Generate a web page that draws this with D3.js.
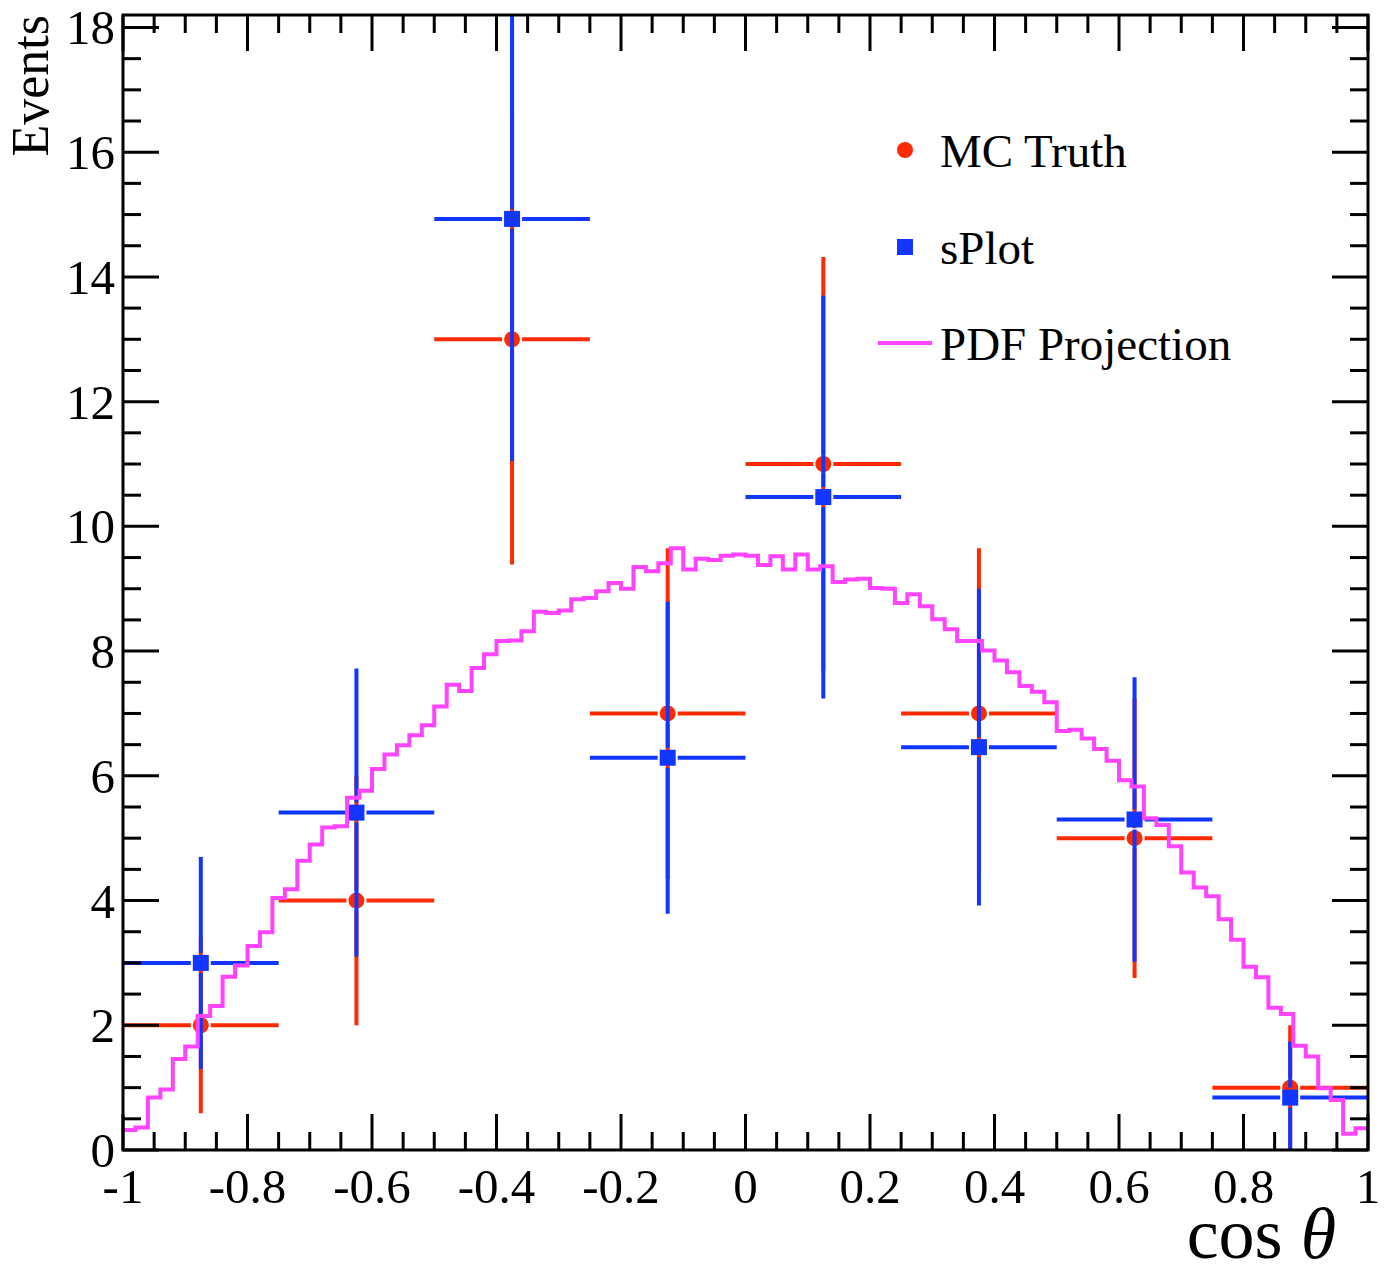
<!doctype html>
<html>
  <head>
    <script src="https://cdnjs.cloudflare.com/ajax/libs/d3/7.8.5/d3.min.js"></script>
    <style>
      body { margin: 0; background: #fff; }
      text { font-family: "Liberation Serif", "DejaVu Serif", serif; fill: #000; }
    </style>
  </head>
  <body>
    <svg width="1387" height="1271"></svg>
    <script>
        // coarse bins (8 x 0.25) for MC truth and sPlot
        var binCenters = [-0.875, -0.625, -0.375, -0.125, 0.125, 0.375, 0.625, 0.875];
        var binHalfWidth = 0.125;
        var truthVals = [2, 4, 13, 7, 11, 7, 5, 1];
        var truthErrs = [1.41, 2, 3.61, 2.65, 3.32, 2.65, 2.24, 1];
        var splotVals = [3.0, 5.41, 14.93, 6.29, 10.47, 6.46, 5.30, 0.84];
        var splotErrs = [1.70, 2.31, 3.88, 2.50, 3.23, 2.54, 2.28, 0.90];

        // fine PDF projection histogram, 100 bins from -1 to 1
        var pdfVals = [
            0.32,0.36,0.84,0.97,1.46,1.66,2.15,2.31,2.78,2.96,3.27,3.49,4.04,4.18,4.64,4.90,5.17,5.19,5.65,5.76,
            6.11,6.34,6.49,6.65,6.81,7.11,7.46,7.36,7.73,7.95,8.16,8.17,8.32,8.63,8.61,8.65,8.83,8.85,8.96,9.09,
            9.00,9.35,9.28,9.41,9.65,9.31,9.48,9.46,9.53,9.55,9.53,9.38,9.52,9.31,9.55,9.31,9.36,9.11,9.15,9.16,
            9.01,9.00,8.77,8.91,8.72,8.51,8.35,8.16,8.16,8.01,7.85,7.66,7.44,7.35,7.18,6.72,6.74,6.60,6.43,6.24,
            5.93,5.83,5.32,5.21,4.87,4.45,4.21,4.07,3.70,3.37,2.94,2.77,2.28,2.18,1.67,1.50,0.99,0.80,0.26,0.35
        ];

        var xTicks = [-1, -0.8, -0.6, -0.4, -0.2, 0, 0.2, 0.4, 0.6, 0.8, 1];
        var yTicks = [0, 2, 4, 6, 8, 10, 12, 14, 16, 18];
        var legendLabels = ["MC Truth", "sPlot", "PDF Projection"];

        var red = "#ff2a00", blue = "#1236ff", magenta = "#ff44ff";

        var L = 123, R = 1368, T = 15, B = 1150;
        var x = d3.scaleLinear().domain([-1, 1]).range([L, R]);
        var y = d3.scaleLinear().domain([0, 18.2]).range([B, T]);

        var svg = d3.select("svg");

        svg.append("clipPath").attr("id", "plot")
            .append("rect").attr("x", L).attr("y", T).attr("width", R - L).attr("height", B - T);

        var plot = svg.append("g").attr("clip-path", "url(#plot)");

        function drawSeries(vals, errs, color, gap) {
            var g = plot.append("g").attr("stroke", color).attr("stroke-width", 4).attr("fill", "none");
            binCenters.forEach(function(c, i) {
                var cx = x(c), cy = y(vals[i]);
                // horizontal bars
                g.append("line").attr("x1", x(c - binHalfWidth)).attr("x2", cx - gap).attr("y1", cy).attr("y2", cy);
                g.append("line").attr("x1", cx + gap).attr("x2", x(c + binHalfWidth)).attr("y1", cy).attr("y2", cy);
                // vertical bars
                var lo = Math.max(0, vals[i] - errs[i]);
                g.append("line").attr("x1", cx).attr("x2", cx).attr("y1", cy - gap).attr("y2", y(vals[i] + errs[i]));
                g.append("line").attr("x1", cx).attr("x2", cx).attr("y1", cy + gap).attr("y2", y(lo));
            });
            return g;
        }

        drawSeries(truthVals, truthErrs, red, 10);
        plot.append("g").selectAll("circle").data(binCenters).enter().append("circle")
            .attr("cx", d => x(d))
            .attr("cy", (d, i) => y(truthVals[i]))
            .attr("r", 8)
            .attr("fill", red);

        drawSeries(splotVals, splotErrs, blue, 10);
        plot.append("g").selectAll("rect").data(binCenters).enter().append("rect")
            .attr("x", d => x(d) - 8)
            .attr("y", (d, i) => y(splotVals[i]) - 8)
            .attr("width", 16).attr("height", 16)
            .attr("fill", blue);

        // step histogram for the PDF
        var pdfPts = pdfVals.map((v, i) => [-1 + i * 0.02, v]);
        pdfPts.push([1, pdfVals[pdfVals.length - 1]]);
        var stepLine = d3.line().x(d => x(d[0])).y(d => y(d[1])).curve(d3.curveStepAfter);
        plot.append("path").datum(pdfPts)
            .attr("d", stepLine)
            .attr("fill", "none").attr("stroke", magenta).attr("stroke-width", 4);

        // frame and ticks
        var axes = svg.append("g").attr("stroke", "#000").attr("stroke-width", 3);
        axes.append("rect").attr("x", L).attr("y", T).attr("width", R - L).attr("height", B - T).attr("fill", "none");

        var xMinor = d3.range(-1, 1.0001, 0.05);
        xMinor.forEach(function(v) {
            var major = Math.abs(v * 5 - Math.round(v * 5)) < 1e-6;
            var len = major ? 36 : 18;
            axes.append("line").attr("x1", x(v)).attr("x2", x(v)).attr("y1", B).attr("y2", B - len);
            axes.append("line").attr("x1", x(v)).attr("x2", x(v)).attr("y1", T).attr("y2", T + len);
        });
        var yMinor = d3.range(0, 18.01, 0.5);
        yMinor.forEach(function(v) {
            var major = Math.abs(v / 2 - Math.round(v / 2)) < 1e-6;
            var len = major ? 36 : 18;
            axes.append("line").attr("y1", y(v)).attr("y2", y(v)).attr("x1", L).attr("x2", L + len);
            axes.append("line").attr("y1", y(v)).attr("y2", y(v)).attr("x1", R).attr("x2", R - len);
        });

        // tick labels
        svg.append("g").selectAll("text").data(xTicks).enter().append("text")
            .attr("x", d => x(d))
            .attr("y", 1203)
            .attr("text-anchor", "middle")
            .attr("font-size", 49)
            .text(d => d);
        svg.append("g").selectAll("text").data(yTicks).enter().append("text")
            .attr("x", 115)
            .attr("y", d => y(d) + 17)
            .attr("text-anchor", "end")
            .attr("font-size", 49)
            .text(d => d);

        // axis titles
        svg.append("text")
            .attr("transform", "translate(48,15) rotate(-90)")
            .attr("text-anchor", "end")
            .attr("font-size", 52)
            .text("Events");
        var xt = svg.append("text")
            .attr("x", 1336).attr("y", 1258)
            .attr("text-anchor", "end")
            .attr("font-size", 72);
        xt.append("tspan").text("cos ");
        xt.append("tspan").attr("font-style", "italic").text("\u03b8");

        // legend
        var leg = svg.append("g");
        var legY = [150, 247, 343];
        leg.append("circle").attr("cx", 905).attr("cy", legY[0]).attr("r", 8).attr("fill", red);
        leg.append("rect").attr("x", 897).attr("y", legY[1] - 8).attr("width", 16).attr("height", 16).attr("fill", blue);
        leg.append("line").attr("x1", 878).attr("x2", 932).attr("y1", legY[2]).attr("y2", legY[2])
            .attr("stroke", magenta).attr("stroke-width", 4);
        leg.selectAll("text").data(legendLabels).enter().append("text")
            .attr("x", 940)
            .attr("y", (d, i) => legY[i] + 17)
            .attr("font-size", 47)
            .text(d => d);
    </script>
  </body>
</html>
